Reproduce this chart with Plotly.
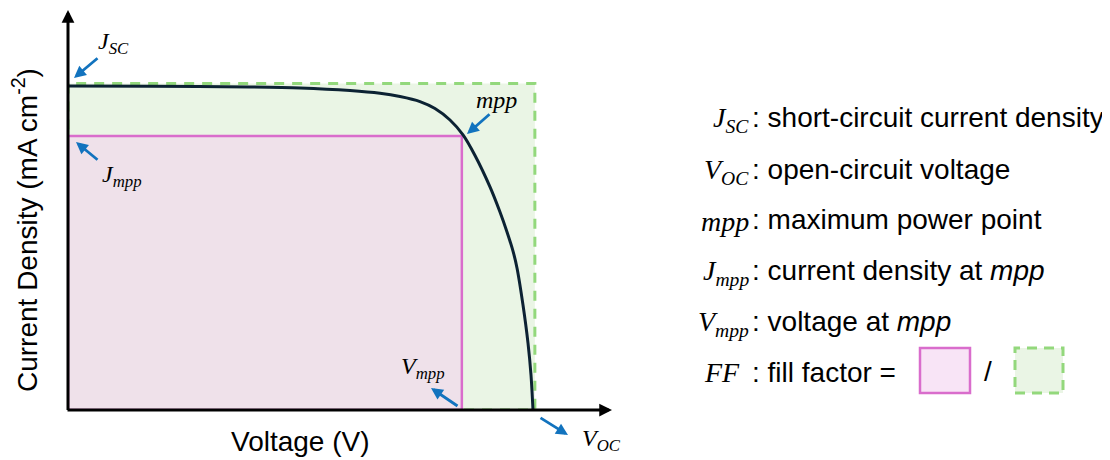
import plotly.graph_objects as go

# ---- data (schematic J-V curve, arbitrary units: V normalised to Voc, J in mA cm^-2) ----
voltage = [0.0, 0.1763, 0.3914, 0.4989, 0.6065, 0.6710, 0.7140, 0.7570, 0.7892, 0.8215,
           0.8495, 0.8753, 0.9075, 0.9290, 0.9441, 0.9570, 0.9656, 0.9785, 0.9892, 0.9957, 1.0]
current = [20.0, 19.98, 19.94, 19.88, 19.72, 19.55, 19.35, 19.04, 18.61, 17.90,
           16.98, 15.71, 13.77, 12.22, 10.99, 9.81, 8.77, 6.48, 4.14, 2.16, 0.0]
jsc_box = 20.15      # J_sc rectangle height
voc_box = 1.004      # V_oc rectangle width
v_mpp = 0.847
j_mpp = 16.91

legend_symbols = ["<i>J<sub>SC</sub></i>", "<i>V<sub>OC</sub></i>", "<i>mpp</i>",
                  "<i>J<sub>mpp</sub></i>", "<i>V<sub>mpp</sub></i>", "<i>FF</i>"]
legend_texts = [": short-circuit current density", ": open-circuit voltage",
                ": maximum power point", ": current density at <i>mpp</i>",
                ": voltage at <i>mpp</i>", ": fill factor =  "]

OFF = 8                          # page body margin of the html page
W, H = 1110 - OFF, 460 - OFF
L, R, T, B = 68, 610, 12, 410    # plot area in reference pixels
XR = [0, (R - L) / 465.0]        # 465 px per unit voltage
YR = [0, (B - T) * 20.0 / 324.0] # 324 px per 20 units of current

def px(x):
    return (x - L) / (R - L)

def py(y):
    return (B - y) / (B - T)

SANS = "Arial, Liberation Sans, sans-serif"
SERIF = "Cambria Math, Liberation Serif, DejaVu Serif, serif"
BLUE = "#1273BE"
GREEN_LINE = "#93D87C"
GREEN_FILL = "#EAF5E5"
PINK_LINE = "#D96DCC"
PINK_FILL = "#EFE1EA"
CURVE = "#0C2233"
FS = 28

fig = go.Figure()
fig.add_trace(go.Scatter(x=voltage, y=current, mode="lines",
                         line=dict(color=CURVE, width=3, shape="spline", smoothing=0.8),
                         hoverinfo="skip", showlegend=False))

shapes = [
    dict(type="rect", xref="x", yref="y", x0=0, x1=voc_box, y0=0, y1=jsc_box,
         fillcolor=GREEN_FILL, line=dict(color=GREEN_LINE, width=3, dash="10px,8px"), layer="below"),
    dict(type="rect", xref="x", yref="y", x0=0, x1=v_mpp, y0=0, y1=j_mpp,
         fillcolor=PINK_FILL, line=dict(color=PINK_LINE, width=2.5), layer="below"),
    # legend boxes
    dict(type="rect", xref="paper", yref="paper", x0=px(920), x1=px(970), y0=py(393), y1=py(348),
         fillcolor="#F8E4F6", line=dict(color=PINK_LINE, width=2.5)),
    dict(type="rect", xref="paper", yref="paper", x0=px(1015), x1=px(1063), y0=py(393), y1=py(348),
         fillcolor=GREEN_FILL, line=dict(color=GREEN_LINE, width=3, dash="10px,7px")),
]

ann = []

def arrow(head, tail, color, width, size):
    ann.append(dict(xref="paper", yref="paper", x=px(head[0]), y=py(head[1]),
                    ax=tail[0] - head[0], ay=tail[1] - head[1], axref="pixel", ayref="pixel",
                    text="", showarrow=True, arrowhead=2, arrowsize=size,
                    arrowwidth=width, arrowcolor=color, standoff=0, startstandoff=0))

# axes with arrow heads
arrow((612, 410), (66, 410), "black", 3, 0.85)
arrow((68, 10), (68, 411.5), "black", 3, 0.85)

# blue pointer arrows
arrow((74, 78), (99, 57), BLUE, 2.8, 0.85)
arrow((76, 142), (99, 161), BLUE, 2.8, 0.85)
arrow((467, 134), (491, 113), BLUE, 2.8, 0.85)
arrow((431, 388), (459, 407), BLUE, 2.8, 0.85)
arrow((568, 435), (539, 417), BLUE, 2.8, 0.85)

def label(x, y, text, size, family=SERIF, xanchor="center", yanchor="middle", color="black", angle=0):
    ann.append(dict(xref="paper", yref="paper", x=px(x), y=py(y), text=text, showarrow=False,
                    xanchor=xanchor, yanchor=yanchor, textangle=angle,
                    font=dict(family=family, size=size, color=color)))

label(113, 43, "<i>J<sub>SC</sub></i>", 24)
label(122, 176, "<i>J<sub>mpp</sub></i>", 24)
label(496, 100, "<i>mpp</i>", 24)
label(423, 368, "<i>V<sub>mpp</sub></i>", 24)
label(601, 440, "<i>V<sub>OC</sub></i>", 24)

# axis titles
label(300, 442, "Voltage (V)", FS, family=SANS)
label(25, 230, "Current Density (mA cm<sup>-2</sup>)", FS, family=SANS, angle=-90)

# legend text
rows = [120, 171, 221, 272, 323, 374]
for i, (sym, txt, yy) in enumerate(zip(legend_symbols, legend_texts, rows)):
    if i == 5:
        label(724, yy, sym + "<sub>&nbsp;</sub>", 28, xanchor="center")
    else:
        label(751, yy, sym, 28, xanchor="right")
    label(750, yy, txt + "<sub>&nbsp;</sub>", FS, family=SANS, xanchor="left")
label(988, 371, "/", FS, family=SANS)

fig.update_layout(
    width=W, height=H,
    margin=dict(l=L - OFF, r=W - (R - OFF), t=T - OFF, b=H - (B - OFF), pad=0),
    paper_bgcolor="white", plot_bgcolor="white",
    xaxis=dict(range=XR, visible=False, fixedrange=True),
    yaxis=dict(range=YR, visible=False, fixedrange=True),
    shapes=shapes, annotations=ann, showlegend=False,
)

fig.write_html("out.html")
